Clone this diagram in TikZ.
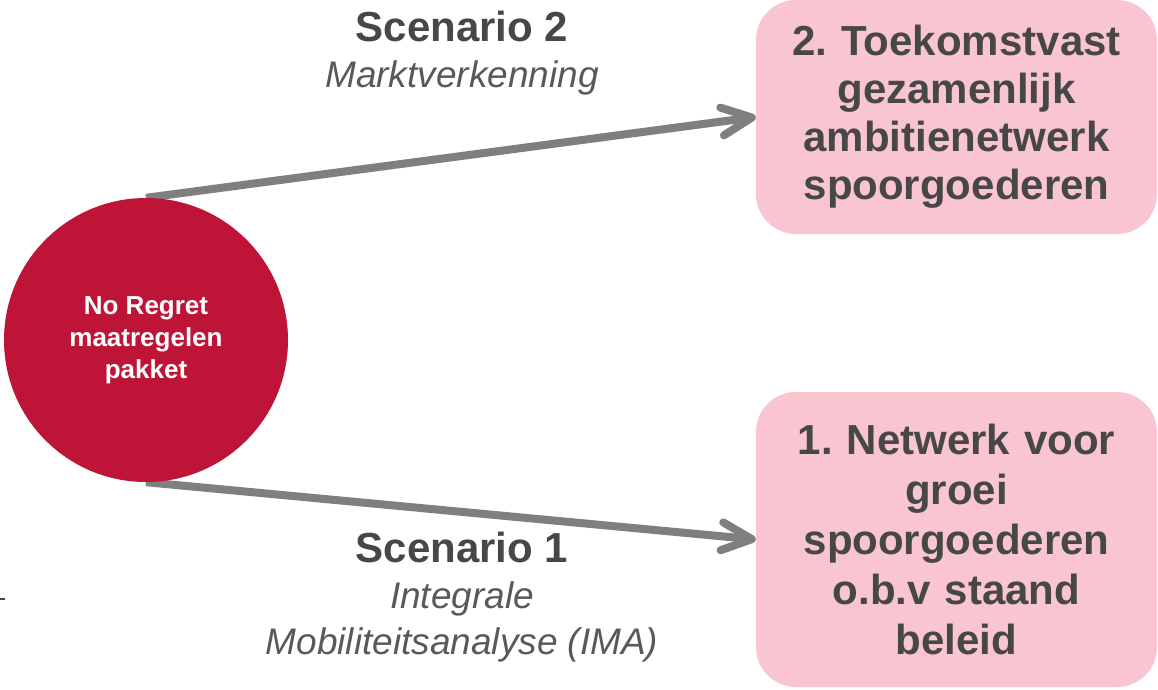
\documentclass[tikz,border=0pt]{standalone}
\usepackage{fontspec}
\setmainfont{Liberation Sans}
\usetikzlibrary{arrows.meta, backgrounds}
\frenchspacing

\definecolor{nrred}{HTML}{BE1438}
\definecolor{netpink}{HTML}{F9C5D0}
\definecolor{pijlgrey}{HTML}{7F7F7F}
\definecolor{tekstgrey}{HTML}{474747}
\definecolor{subgrey}{HTML}{595959}
\newcommand{\subfont}{\fontsize{37}{46}\selectfont\mdseries\itshape\color{subgrey}}

\begin{document}
\begin{tikzpicture}[x=1pt, y=-1pt,
    pakket/.style={circle, fill=nrred, text=white, minimum size=284pt,
        inner sep=0pt, align=center,
        font=\fontsize{26}{32}\selectfont\bfseries},
    netwerk/.style={rectangle, rounded corners=40pt, fill=netpink,
        text=tekstgrey, text width=401pt, inner sep=0pt, align=center,
        font=\fontsize{42}{50}\selectfont\bfseries},
    scenario/.style={align=center, text=tekstgrey, inner sep=0pt,
        font=\fontsize{42}{46}\selectfont\bfseries},
    pijl/.style={draw=pijlgrey, line width=8pt,
        -{Straight Barb[length=30pt, width=28pt, round]}}]

    \useasboundingbox (0,0) rectangle (1158,689);

        \node[pakket] (pakket) at (146,340)
              {No Regret\\ maatregelen\\ pakket};

        \node[netwerk, minimum height=234pt,
              font=\fontsize{42}{48}\selectfont\bfseries] (net_2) at (956.5,117)
              {2. Toekomstvast\\ gezamenlijk\\ ambitienetwerk\\ spoorgoederen};

        \node[netwerk, minimum height=295pt] (net_1) at (956.5,539.5)
              {1. Netwerk voor\\ groei\\ spoorgoederen\\ o.b.v staand\\ beleid};

        \node[scenario] (scen_2) at (462,53.5)
              {Scenario 2\\ \subfont Marktverkenning};

        \node[scenario] (scen_1) at (462,597.5)
              {Scenario 1\\ \subfont Integrale\\ \subfont Mobiliteitsanalyse (IMA)};

        \coordinate (streep_a) at (0,599);
        \coordinate (streep_b) at (5,599);
        \draw[tekstgrey, line width=1.5pt] (streep_a) -- (streep_b);

        \begin{scope}[on background layer]
         \draw[pijl] (pakket.north) -- (net_2.west);
         \draw[pijl] (pakket.south) -- (net_1.west);
        \end{scope}

    \end{tikzpicture}
\end{document}
